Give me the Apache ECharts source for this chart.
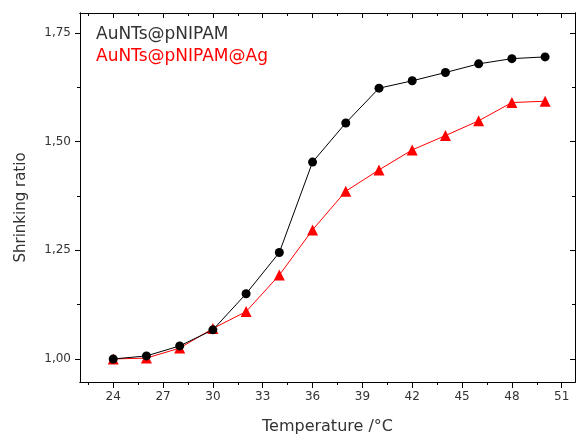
<!DOCTYPE html>
<html><head><meta charset="utf-8">
<script src="https://cdn.jsdelivr.net/npm/echarts@6/dist/echarts.min.js"></script>
<style>html,body{margin:0;padding:0;background:#fff}#c{width:576px;height:441px}</style>
</head><body><div id="c"></div>
<script>
const temps = [24,26,28,30,32,34,36,38,40,42,44,46,48,50];
const seriesNames = ['AuNTs@pNIPAM','AuNTs@pNIPAM@Ag'];
const auNTs = [1.000,1.007,1.030,1.067,1.150,1.245,1.453,1.543,1.623,1.640,1.659,1.679,1.691,1.695];
const auNTsAg = [1.000,1.002,1.025,1.070,1.109,1.193,1.297,1.386,1.435,1.481,1.514,1.548,1.590,1.593];
const xMajor = [24,27,30,33,36,39,42,45,48,51];
const xMinor = [22.5,25.5,28.5,31.5,34.5,37.5,40.5,43.5,46.5,49.5];
const yMajor = [1.00,1.25,1.50,1.75];
const yMinor = [1.125,1.375,1.625];

const X_MIN = 22, X_MAX = 51.8, Y_MIN = 0.947, Y_MAX = 1.796;
const lineC = '#000';
const FF = 'DejaVu Sans, Liberation Sans, Arial';
function xa(pos, ticks, len, inside, labels, extra) {
  return Object.assign({
    type: 'value', position: pos, min: X_MIN, max: X_MAX,
    axisLine: {show: true, onZero: false, lineStyle: {color: lineC, width: 1}},
    axisTick: {show: true, customValues: ticks, length: len, inside: inside, lineStyle: {color: lineC}},
    axisLabel: labels ? {show: true, customValues: ticks, color: '#333', fontSize: 12, margin: 9, fontFamily: FF} : {show: false},
    splitLine: {show: false}
  }, extra || {});
}
function ya(pos, ticks, len, inside, labels, extra) {
  return Object.assign({
    type: 'value', position: pos, min: Y_MIN, max: Y_MAX,
    axisLine: {show: true, onZero: false, lineStyle: {color: lineC, width: 1}},
    axisTick: {show: true, customValues: ticks, length: len, inside: inside, lineStyle: {color: lineC}},
    axisLabel: labels ? {show: true, customValues: ticks, color: '#333', fontSize: 12, margin: 9, fontFamily: FF,
      formatter: v => v.toFixed(2).replace('.', ',')} : {show: false},
    splitLine: {show: false}
  }, extra || {});
}
const chart = echarts.init(document.getElementById('c'));
chart.setOption({
  animation: false,
  backgroundColor: '#fff',
  grid: {left: 80, right: 1, top: 13, bottom: 59, containLabel: false},
  legend: {
    orient: 'vertical', left: 86, top: 21, icon: 'none', itemGap: 5, itemWidth: 0,
    textStyle: {fontSize: 17, fontFamily: FF},
    data: [
      {name: seriesNames[0], textStyle: {color: '#333'}},
      {name: seriesNames[1], textStyle: {color: '#ff0000'}}
    ],
    selectedMode: false
  },
  xAxis: [
    xa('bottom', xMajor, 6, false, true, {name: 'Temperature /°C', nameLocation: 'middle', nameGap: 37,
      nameTextStyle: {color: '#333', fontSize: 16, fontFamily: FF}}),
    xa('bottom', xMinor, 3, false, false),
    xa('top', xMajor, 5, true, false),
    xa('top', xMinor, 3, true, false)
  ],
  yAxis: [
    ya('left', yMajor, 5, false, true, {name: 'Shrinking ratio', nameLocation: 'middle', nameGap: 51,
      nameTextStyle: {color: '#333', fontSize: 15, fontFamily: FF, padding: [0, 20, 0, 0]}}),
    ya('left', yMinor, 3, false, false),
    ya('right', yMajor, 5, true, false),
    ya('right', yMinor, 3, true, false)
  ],
  series: [
    {name: seriesNames[0], type: 'line', xAxisIndex: 0, yAxisIndex: 0,
     data: temps.map((t, i) => [t, auNTs[i]]),
     symbol: 'circle', symbolSize: 9, z: 3,
     lineStyle: {color: '#000', width: 1}, itemStyle: {color: '#000'}},
    {name: seriesNames[1], type: 'line', xAxisIndex: 0, yAxisIndex: 0,
     data: temps.map((t, i) => [t, auNTsAg[i]]),
     symbol: 'triangle', symbolSize: 11, z: 2,
     lineStyle: {color: '#ff0000', width: 1}, itemStyle: {color: '#ff0000'}}
  ]
});
</script></body></html>
